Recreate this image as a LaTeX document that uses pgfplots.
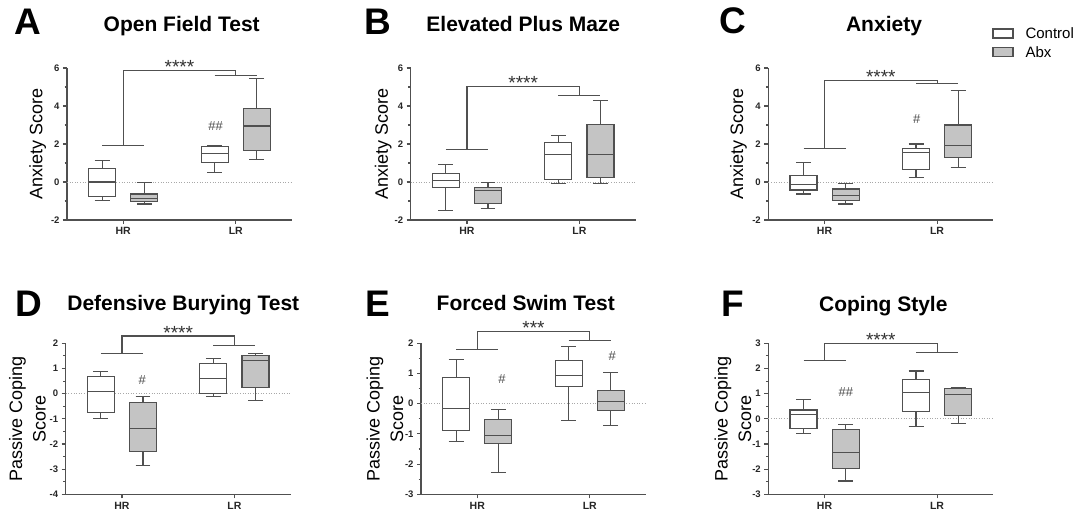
\documentclass[border=0pt]{standalone}
\usepackage{fontspec}
\setmainfont{Liberation Sans}
\usepackage{pgfplots}
\pgfplotsset{compat=1.18}
\usepgfplotslibrary{statistics}

\definecolor{lc}{HTML}{505050}
\definecolor{abx}{HTML}{C4C4C4}
\definecolor{zl}{HTML}{A8A8A8}

\pgfplotsset{
  panel/.style={
    scale only axis, width=225pt, anchor=south west,
    xmin=0.5, xmax=2.5, xtick={1,2}, xticklabels={HR,LR},
    axis x line*=bottom, axis y line*=left,
    axis line style={lc, line width=1.1pt, -},
    tick style={lc, line width=1.1pt},
    tick align=outside, major tick length=4pt, minor tick length=2.5pt,
    xticklabel style={font=\fontsize{10.5}{12}\selectfont\bfseries, text=black!85},
    yticklabel style={font=\fontsize{9.5}{11}\selectfont\bfseries, text=black!85},
    /pgf/number format/assume math mode=true,
    ylabel style={font=\fontsize{18}{23.5}\selectfont, align=center, anchor=center},
    clip=false,
  },
}
% draw position, lower whisker, lower quartile, median, upper quartile, upper whisker, fill
\newcommand{\bxp}[7]{\addplot[draw=lc, line width=1.1pt, solid, fill=#7, boxplot prepared={draw position=#1,
  lower whisker=#2, lower quartile=#3, median=#4, upper quartile=#5, upper whisker=#6,
  draw direction=y, box extend=0.24, whisker extend=0.133}]
  coordinates {};}
% bracket: left bar y, top y, right bar y
\newcommand{\brk}[3]{%
  \addplot[lc, line width=1.1pt, no marks] coordinates {(0.813,#1) (1.187,#1)};
  \addplot[lc, line width=1.1pt, no marks] coordinates {(1,#1) (1,#2) (2,#2) (2,#3)};
  \addplot[lc, line width=1.1pt, no marks] coordinates {(1.813,#3) (2.187,#3)};}
\newcommand{\zline}{\addplot[zl, line width=1pt, dash pattern=on 1pt off 1.6pt, no marks] coordinates {(0.5,0) (2.5,0)};}
\newcommand{\stars}[2]{\node[anchor=base, yshift=-3pt, font=\fontsize{19}{19}\selectfont, text=black!80] at (axis cs:1.5,#1) {#2};}
\newcommand{\hsh}[3]{\node[font=\fontsize{13}{13}\selectfont, text=black!70] at (axis cs:#1,#2) {#3};}

\begin{document}
\begin{tikzpicture}
\path (0pt,0pt) rectangle (1083pt,515pt);

% ---------- A ----------
\begin{axis}[panel, at={(67pt,295pt)}, height=152pt, ymin=-2, ymax=6,
  ytick={-2,0,2,4,6}, minor ytick={-1,1,3,5},
  ylabel={Anxiety Score}, ylabel style={at={(axis description cs:-0.13,0.5)}}]
\zline
\bxp{0.813}{-0.95}{-0.74}{0}{0.72}{1.11}{white}
\bxp{1.187}{-1.16}{-1.04}{-0.86}{-0.63}{-0.03}{abx}
\bxp{1.813}{0.51}{1.02}{1.51}{1.85}{1.93}{white}
\bxp{2.187}{1.2}{1.65}{2.95}{3.88}{5.43}{abx}
\brk{1.93}{5.87}{5.59}
\stars{5.87}{****}
\hsh{1.82}{2.92}{\#\#}
\end{axis}

% ---------- B ----------
\begin{axis}[panel, at={(410.7pt,295pt)}, height=152pt, ymin=-2, ymax=6,
  ytick={-2,0,2,4,6}, minor ytick={-1,1,3,5},
  ylabel={Anxiety Score}, ylabel style={at={(axis description cs:-0.122,0.5)}}]
\zline
\bxp{0.813}{-1.48}{-0.28}{0.1}{0.44}{0.9}{white}
\bxp{1.187}{-1.41}{-1.11}{-0.47}{-0.28}{-0.02}{abx}
\bxp{1.813}{-0.09}{0.14}{1.46}{2.06}{2.43}{white}
\bxp{2.187}{-0.09}{0.23}{1.46}{3.02}{4.27}{abx}
\brk{1.7}{5.01}{4.55}
\stars{5.01}{****}
\end{axis}

% ---------- C ----------
\begin{axis}[panel, at={(768.3pt,295pt)}, height=152pt, ymin=-2, ymax=6,
  ytick={-2,0,2,4,6}, minor ytick={-1,1,3,5},
  ylabel={Anxiety Score}, ylabel style={at={(axis description cs:-0.133,0.5)}}]
\zline
\bxp{0.813}{-0.63}{-0.42}{-0.12}{0.33}{1.02}{white}
\bxp{1.187}{-1.16}{-0.98}{-0.69}{-0.37}{-0.09}{abx}
\bxp{1.813}{0.23}{0.65}{1.56}{1.74}{2.0}{white}
\bxp{2.187}{0.76}{1.3}{1.92}{3.0}{4.83}{abx}
\brk{1.77}{5.36}{5.17}
\stars{5.36}{****}
\hsh{1.82}{3.3}{\#}
\end{axis}

% ---------- D ----------
\begin{axis}[panel, at={(65.7pt,20.7pt)}, height=151pt, ymin=-4, ymax=2,
  ytick={-4,-3,-2,-1,0,1,2}, minor ytick={-3.5,-2.5,-1.5,-0.5,0.5,1.5},
  ylabel={Passive Coping\\Score}, ylabel style={at={(axis description cs:-0.17,0.5)}}]
\zline
\bxp{0.813}{-0.98}{-0.74}{0.08}{0.68}{0.87}{white}
\bxp{1.187}{-2.87}{-2.3}{-1.39}{-0.36}{-0.11}{abx}
\bxp{1.813}{-0.12}{0.0}{0.6}{1.21}{1.39}{white}
\bxp{2.187}{-0.29}{0.24}{1.32}{1.51}{1.6}{abx}
\brk{1.6}{2.29}{1.92}
\stars{2.29}{****}
\hsh{1.18}{0.54}{\#}
\end{axis}

% ---------- E ----------
\begin{axis}[panel, at={(421pt,20.7pt)}, height=151pt, ymin=-3, ymax=2,
  ytick={-3,-2,-1,0,1,2}, minor ytick={-2.5,-1.5,-0.5,0.5,1.5},
  ylabel={Passive Coping\\Score}, ylabel style={at={(axis description cs:-0.16,0.5)}}]
\zline
\bxp{0.813}{-1.26}{-0.89}{-0.15}{0.88}{1.46}{white}
\bxp{1.187}{-2.27}{-1.32}{-1.04}{-0.52}{-0.19}{abx}
\bxp{1.813}{-0.55}{0.57}{0.92}{1.42}{1.88}{white}
\bxp{2.187}{-0.71}{-0.23}{0.07}{0.44}{1.04}{abx}
\brk{1.8}{2.38}{2.1}
\stars{2.38}{***}
\hsh{1.22}{0.82}{\#}
\hsh{2.2}{1.58}{\#}
\end{axis}

% ---------- F ----------
\begin{axis}[panel, at={(768.3pt,20.7pt)}, height=151pt, ymin=-3, ymax=3,
  ytick={-3,-2,-1,0,1,2,3}, minor ytick={-2.5,-1.5,-0.5,0.5,1.5,2.5},
  ylabel={Passive Coping\\Score}, ylabel style={at={(axis description cs:-0.157,0.5)}}]
\zline
\bxp{0.813}{-0.6}{-0.38}{0.18}{0.35}{0.77}{white}
\bxp{1.187}{-2.47}{-1.99}{-1.34}{-0.43}{-0.21}{abx}
\bxp{1.813}{-0.32}{0.3}{1.03}{1.56}{1.9}{white}
\bxp{2.187}{-0.18}{0.13}{0.95}{1.2}{1.26}{abx}
\brk{2.32}{2.99}{2.63}
\stars{2.99}{****}
\hsh{1.19}{1.08}{\#\#}
\end{axis}

% titles and panel letters
\begin{scope}[every node/.style={anchor=base}]
\node[font=\fontsize{21}{21}\selectfont\bfseries] at (181.7pt,483.3pt) {Open Field Test};
\node[font=\fontsize{21}{21}\selectfont\bfseries] at (523.3pt,483.3pt) {Elevated Plus Maze};
\node[font=\fontsize{21}{21}\selectfont\bfseries] at (884pt,483.3pt) {Anxiety};
\node[font=\fontsize{21}{21}\selectfont\bfseries] at (183.3pt,205pt) {Defensive Burying Test};
\node[font=\fontsize{21}{21}\selectfont\bfseries] at (525.8pt,205pt) {Forced Swim Test};
\node[font=\fontsize{21}{21}\selectfont\bfseries] at (883.3pt,203.3pt) {Coping Style};
\node[font=\fontsize{37}{37}\selectfont\bfseries] at (28pt,480pt) {A};
\node[font=\fontsize{37}{37}\selectfont\bfseries] at (377.5pt,480pt) {B};
\node[font=\fontsize{37}{37}\selectfont\bfseries] at (733pt,481.7pt) {C};
\node[font=\fontsize{37}{37}\selectfont\bfseries] at (29pt,198.3pt) {D};
\node[font=\fontsize{37}{37}\selectfont\bfseries] at (377.5pt,198.3pt) {E};
\node[font=\fontsize{37}{37}\selectfont\bfseries] at (732.5pt,198.3pt) {F};
\end{scope}

% legend
\draw[lc, line width=1.1pt, fill=white] (993pt,477pt) rectangle (1013pt,486pt);
\node[anchor=west, font=\fontsize{15}{15}\selectfont] at (1022pt,481.5pt) {Control};
\draw[lc, line width=1.1pt, fill=abx] (993pt,458.5pt) rectangle (1013pt,467.5pt);
\node[anchor=west, font=\fontsize{15}{15}\selectfont] at (1022pt,463pt) {Abx};
\end{tikzpicture}
\end{document}
